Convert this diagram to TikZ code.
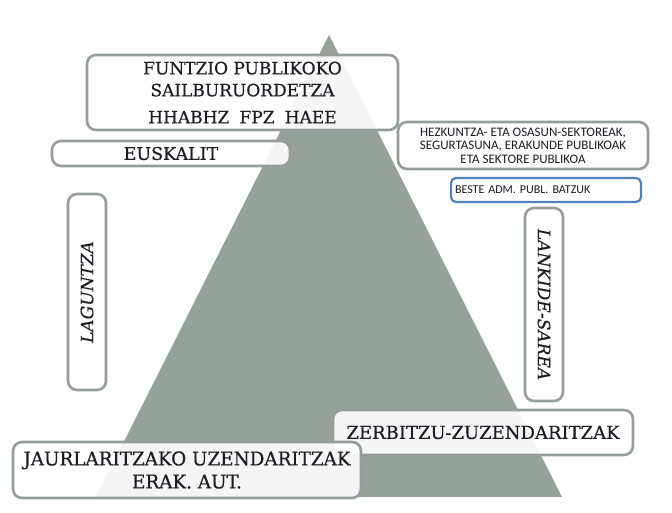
\documentclass[tikz,border=0pt]{standalone}
\usepackage{fontspec}
\setmainfont{DejaVu Serif}[FakeBold=0.5]
\newfontfamily\carlito{Carlito}
\definecolor{trigray}{HTML}{95A299}
\definecolor{boxgray}{HTML}{959F98}
\definecolor{boxblue}{HTML}{4F81BD}
\definecolor{inkdark}{HTML}{1C1C24}
\begin{document}
\begin{tikzpicture}[x=1pt,y=1pt,
  box/.style={draw=boxgray, line width=2.6pt, rounded corners=9pt, fill=white,
    fill opacity=0.9, text opacity=1, text=inkdark, inner sep=0pt, align=center},
  bluebox/.style={draw=boxblue, line width=2.2pt, rounded corners=5pt, fill=white,
    text=inkdark, inner sep=0pt, align=left},
  slab/.style={font=\fontsize{17}{22}\selectfont},
  sans/.style={font=\carlito\fontsize{13}{13.5}\selectfont}]
\useasboundingbox (0,0) rectangle (672,513);
\fill[trigray] (329,478) -- (562,16) -- (96,16) -- cycle;
\node[box, slab, minimum width=311, minimum height=75] (top) at (242.5,420.5)
  {FUNTZIO PUBLIKOKO\\SAILBURUORDETZA\\[5pt]HHABHZ\hspace{0.6em}FPZ\hspace{0.6em}HAEE};
\node[box, font=\fontsize{17.5}{22}\selectfont, minimum width=238, minimum height=25] (eusk) at (171,359.5) {EUSKALIT};
\node[box, sans, minimum width=250, minimum height=47] (hezk) at (523,367.5)
  {HEZKUNTZA- ETA OSASUN-SEKTOREAK,\\SEGURTASUNA, ERAKUNDE PUBLIKOAK\\ETA SEKTORE PUBLIKOA};
\node[bluebox, minimum width=190, minimum height=24, text width=182,
  font=\carlito\fontsize{12}{13}\selectfont] (beste) at (546,323) {BESTE ADM. PUBL. BATZUK};
\node[box, slab, minimum width=38, minimum height=196] (lag) at (87,221)
  {\rotatebox{90}{\itshape LAGUNTZA}};
\node[box, slab, minimum width=38, minimum height=193] (lank) at (544,208.5)
  {\rotatebox{-90}{\itshape LANKIDE-SAREA}};
\node[box, font=\fontsize{18}{22}\selectfont, minimum width=300, minimum height=45] (zerb) at (483,80.5)
  {ZERBITZU-ZUZENDARITZAK};
\node[box, font=\fontsize{19}{23}\selectfont, minimum width=348, minimum height=56] (jaur) at (187,43)
  {\scalebox{0.965}[1]{JAURLARITZAKO UZENDARITZAK}\\\scalebox{0.965}[1]{ERAK. AUT.}};
\end{tikzpicture}
\end{document}
